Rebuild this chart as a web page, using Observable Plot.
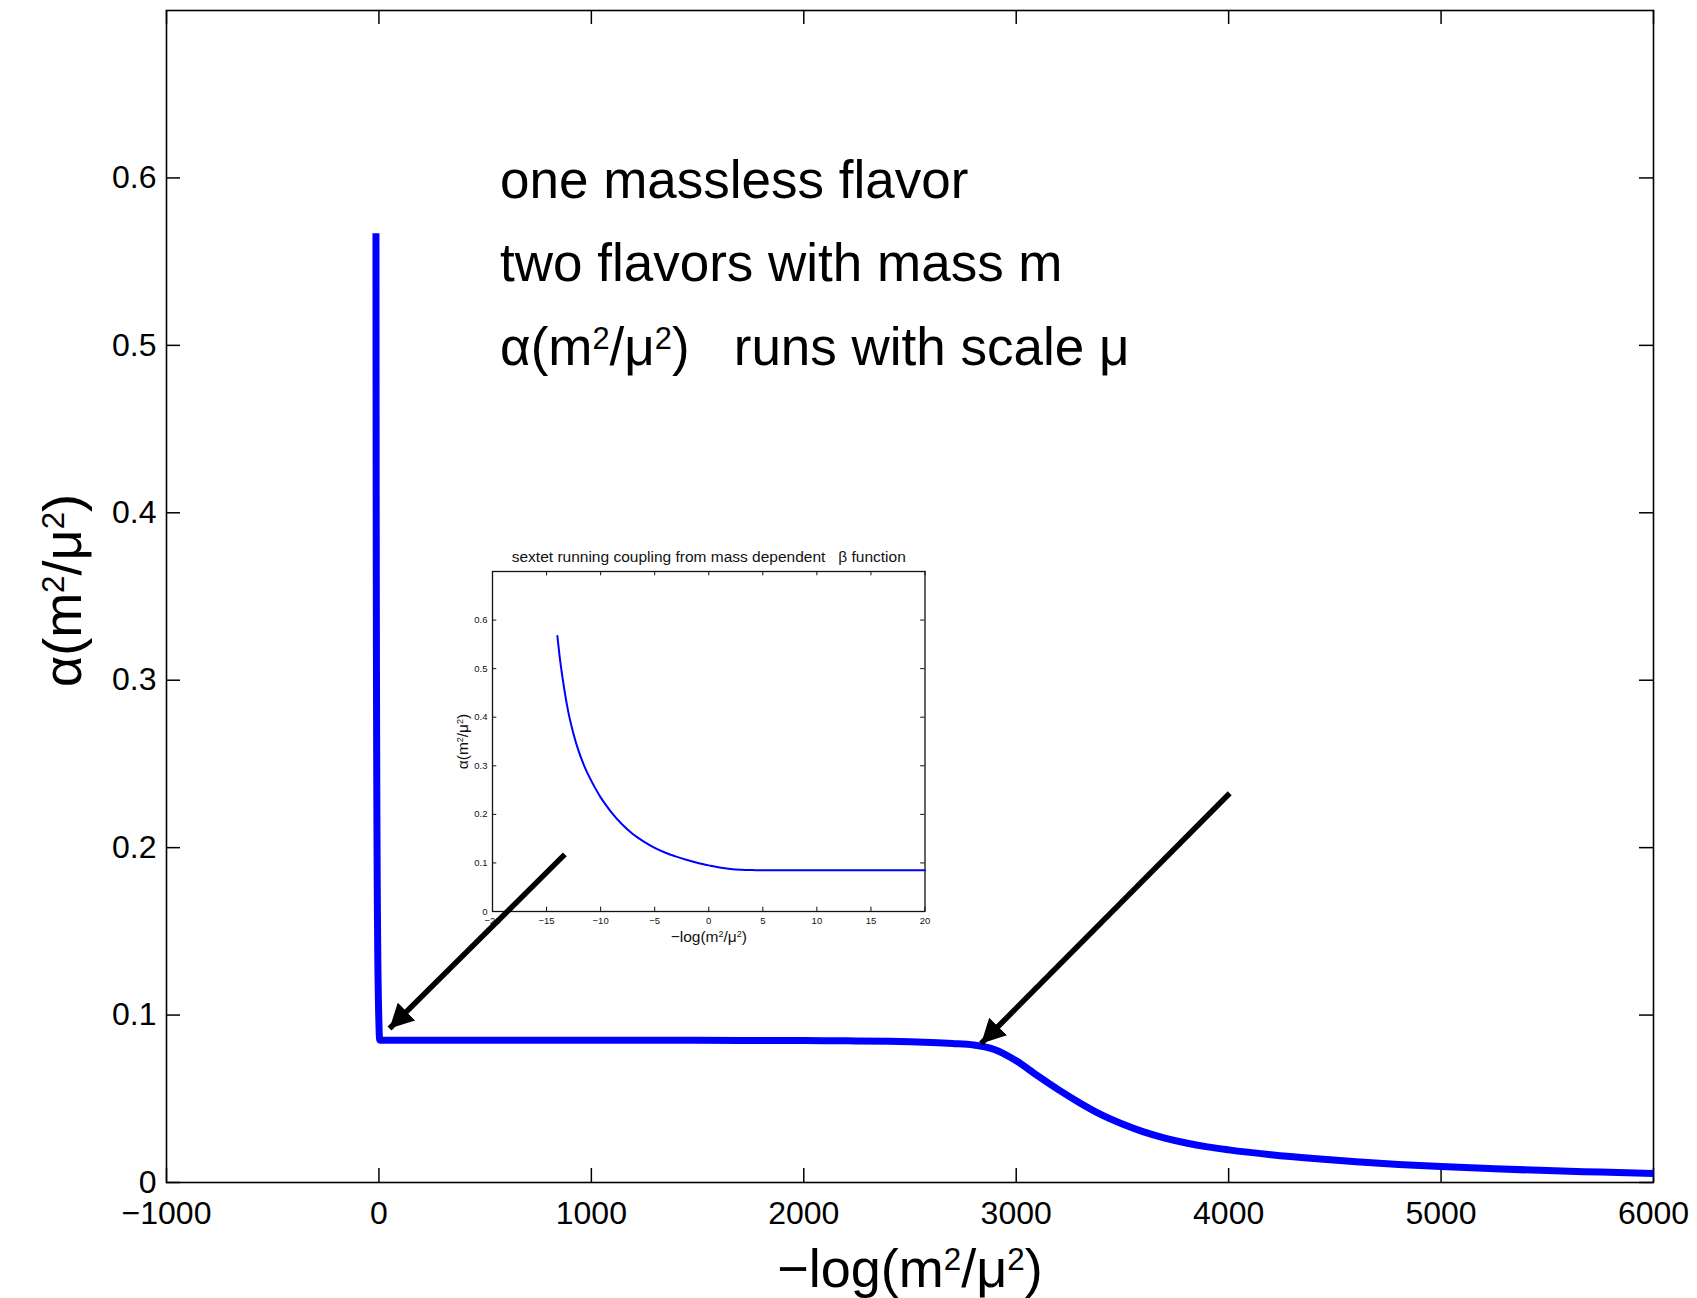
<!DOCTYPE html>
<html>
<head>
<meta charset="utf-8">
<script src="https://cdn.jsdelivr.net/npm/d3@7"></script>
<script src="https://cdn.jsdelivr.net/npm/@observablehq/plot@0.6"></script>
<style>
  html, body { margin: 0; padding: 0; background: #fff; overflow: hidden; }
  #figure { position: relative; width: 1697px; height: 1298px; }
  #figure svg { position: absolute; overflow: visible; }
  #figure text { white-space: pre; }
</style>
</head>
<body>
<div id="figure"></div>
<script>
// Running coupling α(m²/μ²) of the sextet model against −log(m²/μ²)
const couplingX = [-14, -13.8, -13.5, -13, -12.5, -12, -11.5, -11, -10.5, -10,
  -9.5, -9, -8, -7, -6, -5, -4, -3, -2, -1,
  0, 1, 2, 3, 4, 5, 6, 8, 10, 15,
  20, 100, 500, 1000, 1500, 2000, 2200, 2400, 2500, 2600,
  2700, 2800, 2900, 3000, 3100, 3200, 3300, 3400, 3500, 3600,
  3700, 3800, 3900, 4000, 4200, 4400, 4600, 4800, 5000, 5250,
  5500, 5750, 6000];
const couplingY = [0.567, 0.527, 0.478, 0.412, 0.365, 0.328, 0.299, 0.275, 0.254, 0.235,
  0.219, 0.204, 0.179, 0.159, 0.144, 0.131, 0.121, 0.113, 0.106, 0.100,
  0.095, 0.0905, 0.0875, 0.0858, 0.0852, 0.085, 0.085, 0.085, 0.085, 0.085,
  0.085, 0.085, 0.085, 0.085, 0.0849, 0.0848, 0.0846, 0.0843, 0.0840, 0.0836,
  0.0830, 0.0821, 0.0793, 0.0727, 0.0638, 0.0553, 0.0475, 0.0405, 0.0349, 0.0302,
  0.0265, 0.0236, 0.0213, 0.0195, 0.0166, 0.0143, 0.0124, 0.0108, 0.0095, 0.0082,
  0.0071, 0.0062, 0.0054];

// Main axes
const xTicks = [-1000, 0, 1000, 2000, 3000, 4000, 5000, 6000];
const xTickLabels = ["−1000", "0", "1000", "2000", "3000", "4000", "5000", "6000"];
const yTicks = [0, 0.1, 0.2, 0.3, 0.4, 0.5, 0.6];
const yTickLabels = ["0", "0.1", "0.2", "0.3", "0.4", "0.5", "0.6"];
const xLabel = "−log(m²/μ²)";
const yLabel = "α(m²/μ²)";

// Inset axes
const insetTitle = "sextet running coupling from mass dependent   β function";
const insetXTicks = [-20, -15, -10, -5, 0, 5, 10, 15, 20];
const insetXTickLabels = ["−20", "−15", "−10", "−5", "0", "5", "10", "15", "20"];
const insetYTicks = [0, 0.1, 0.2, 0.3, 0.4, 0.5, 0.6];
const insetYTickLabels = ["0", "0.1", "0.2", "0.3", "0.4", "0.5", "0.6"];

// Annotation lines (anchored in data units)
const notes = ["one massless flavor", "two flavors with mass m", "α(m²/μ²)   runs with scale μ"];
const noteX = [570, 570, 570];
const noteY = [0.588, 0.5385, 0.488];

// Pointer arrows: tail (x1, y1) to head (x2, y2)
const arrowX1 = [875, 4005];
const arrowY1 = [0.196, 0.2325];
const arrowX2 = [50, 2835];
const arrowY2 = [0.092, 0.083];

const FONT = "'Liberation Sans', Arial, Helvetica, sans-serif";
const BLUE = "#0000ff";

const curve = couplingX.map((x, i) => ({x, y: couplingY[i]}));

// Typeset "²" as a raised, reduced "2" inside each text element
function raiseSquares(svg) {
  d3.select(svg).selectAll("text").each(function () {
    const s = this.textContent;
    if (!s.includes("²")) return;
    const t = d3.select(this).text(null);
    let raised = false;
    for (const part of s.split(/(²)/)) {
      if (!part) continue;
      if (part === "²") {
        t.append("tspan").attr("font-size", "0.58em").attr("dy", "-0.534em").text("2");
        raised = true;
      } else {
        const span = t.append("tspan").text(part);
        if (raised) span.attr("dy", "0.31em");
        raised = false;
      }
    }
  });
}

// ---- main panel ----
const W = 1697, H = 1298;
const M = {left: 166, right: 44, top: 10, bottom: 116};
const frameW = W - M.left - M.right;
const frameH = H - M.top - M.bottom;
const tickLen = 14;

const main = Plot.plot({
  width: W, height: H,
  marginLeft: M.left, marginRight: M.right, marginTop: M.top, marginBottom: M.bottom,
  style: {fontFamily: FONT, fontSize: "32px", color: "#000", background: "#fff"},
  x: {domain: [-1000, 6000], ticks: xTicks, tickSize: 0, tickPadding: 19, label: null,
      tickFormat: d => xTickLabels[xTicks.indexOf(d)]},
  y: {domain: [0, 0.7], ticks: yTicks, tickSize: 0, tickPadding: 10, label: null,
      tickFormat: d => yTickLabels[yTicks.indexOf(d)]},
  marks: [
    // inward ticks on all four sides
    Plot.ruleX(xTicks, {stroke: "#000", strokeWidth: 1.5, insetTop: frameH - tickLen}),
    Plot.ruleX(xTicks, {stroke: "#000", strokeWidth: 1.5, insetBottom: frameH - tickLen}),
    Plot.ruleY(yTicks, {stroke: "#000", strokeWidth: 1.5, insetRight: frameW - tickLen}),
    Plot.ruleY(yTicks, {stroke: "#000", strokeWidth: 1.5, insetLeft: frameW - tickLen}),
    Plot.frame({stroke: "#000", strokeWidth: 1.6}),
    Plot.line(curve, {x: "x", y: "y", stroke: BLUE, strokeWidth: 7, curve: "monotone-x",
                      strokeLinejoin: "round", strokeLinecap: "butt"}),
    Plot.text(notes, {x: noteX, y: noteY, text: d => d, textAnchor: "start", lineAnchor: "bottom",
                      fontSize: 53, fill: "#000"}),
    Plot.text([xLabel], {frameAnchor: "bottom", textAnchor: "middle", dy: 104, lineAnchor: "bottom",
                         fontSize: 54, fill: "#000"}),
    Plot.text([yLabel], {frameAnchor: "left", textAnchor: "middle", dx: -86, dy: -6, rotate: -90,
                         lineAnchor: "bottom", fontSize: 54, fill: "#000"})
  ]
});
main.style.left = "0px";
main.style.top = "0px";
raiseSquares(main);

// ---- inset panel ----
const IW = 530, IH = 430;
const IM = {left: 72, right: 25.5, top: 41, bottom: 49};
const iFrameW = IW - IM.left - IM.right;
const iFrameH = IH - IM.top - IM.bottom;
const iTickLen = 4.3;

const inset = Plot.plot({
  width: IW, height: IH,
  marginLeft: IM.left, marginRight: IM.right, marginTop: IM.top, marginBottom: IM.bottom,
  style: {fontFamily: FONT, fontSize: "9.5px", color: "#111", background: "transparent"},
  x: {domain: [-20, 20], ticks: insetXTicks, tickSize: 0, tickPadding: 6, label: null,
      tickFormat: d => insetXTickLabels[insetXTicks.indexOf(d)]},
  y: {domain: [0, 0.7], ticks: insetYTicks, tickSize: 0, tickPadding: 5, label: null,
      tickFormat: d => insetYTickLabels[insetYTicks.indexOf(d)]},
  marks: [
    Plot.ruleX(insetXTicks, {stroke: "#111", strokeWidth: 1, insetTop: iFrameH - iTickLen}),
    Plot.ruleX(insetXTicks, {stroke: "#111", strokeWidth: 1, insetBottom: iFrameH - iTickLen}),
    Plot.ruleY(insetYTicks, {stroke: "#111", strokeWidth: 1, insetRight: iFrameW - iTickLen}),
    Plot.ruleY(insetYTicks, {stroke: "#111", strokeWidth: 1, insetLeft: iFrameW - iTickLen}),
    Plot.frame({stroke: "#111", strokeWidth: 1.3}),
    Plot.line(curve.filter(d => d.x >= -20 && d.x <= 20), {x: "x", y: "y", stroke: BLUE, strokeWidth: 2,
                      curve: "monotone-x"}),
    Plot.text([insetTitle], {frameAnchor: "top", textAnchor: "middle", dy: -10, lineAnchor: "bottom",
                             fontSize: 15.5, fill: "#111"}),
    Plot.text([xLabel], {frameAnchor: "bottom", textAnchor: "middle", dy: 30, lineAnchor: "bottom",
                         fontSize: 15.5, fill: "#111"}),
    Plot.text([yLabel], {frameAnchor: "left", textAnchor: "middle", dx: -25, rotate: -90,
                         lineAnchor: "bottom", fontSize: 15.5, fill: "#111"})
  ]
});
inset.style.left = "420px";
inset.style.top = "530px";
raiseSquares(inset);

// ---- arrows drawn above both panels, in the main panel's coordinates ----
const arrows = Plot.plot({
  width: W, height: H,
  marginLeft: M.left, marginRight: M.right, marginTop: M.top, marginBottom: M.bottom,
  style: {background: "transparent"},
  x: {domain: [-1000, 6000], axis: null},
  y: {domain: [0, 0.7], axis: null},
  marks: [
    Plot.link(arrowX1, {x1: arrowX1, y1: arrowY1, x2: arrowX2, y2: arrowY2,
                        stroke: "#000", strokeWidth: 5.5, strokeLinecap: "butt"})
  ]
});
arrows.style.left = "0px";
arrows.style.top = "0px";
arrows.style.pointerEvents = "none";

// filled triangular arrowheads
const svgA = d3.select(arrows);
svgA.insert("defs", ":first-child")
  .append("marker")
  .attr("id", "arrowhead-filled")
  .attr("viewBox", "-24 -12.5 24 25")
  .attr("markerWidth", 24)
  .attr("markerHeight", 25)
  .attr("markerUnits", "userSpaceOnUse")
  .attr("refX", 0)
  .attr("refY", 0)
  .attr("orient", "auto")
  .append("path")
  .attr("d", "M-24,-12.5L0,0L-24,12.5Z")
  .attr("fill", "#000");
svgA.selectAll('g[aria-label="link"] path').attr("marker-end", "url(#arrowhead-filled)");

const fig = document.getElementById("figure");
fig.appendChild(main);
fig.appendChild(inset);
fig.appendChild(arrows);
</script>
</body>
</html>
